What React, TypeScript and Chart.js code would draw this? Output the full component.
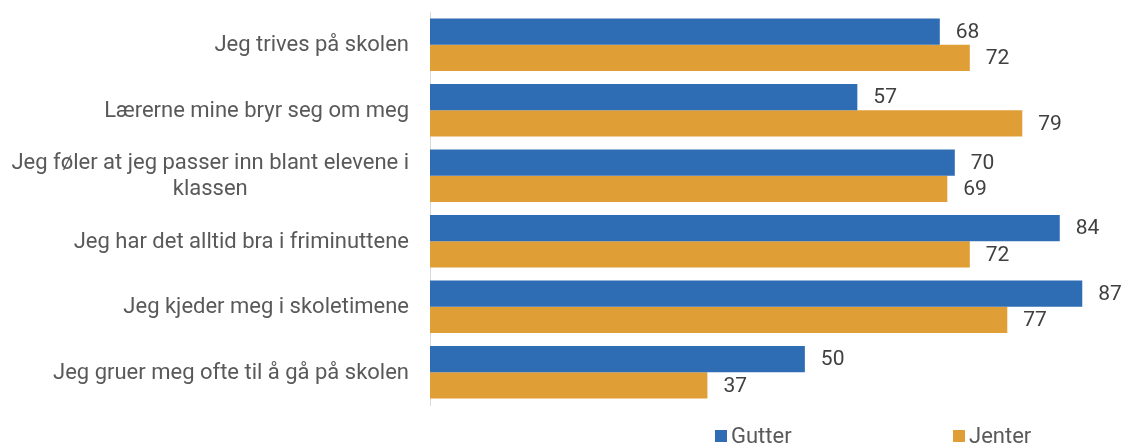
import React, { useEffect, useRef } from "react";
import { Chart, registerables } from "chart.js";

Chart.register(...registerables);

const categories: (string | string[])[] = [
  "Jeg trives på skolen",
  "Lærerne mine bryr seg om meg",
  ["Jeg føler at jeg passer inn blant elevene i", "klassen"],
  "Jeg har det alltid bra i friminuttene",
  "Jeg kjeder meg i skoletimene",
  "Jeg gruer meg ofte til å gå på skolen",
];
const seriesNames = ["Gutter", "Jenter"];
const gutter = [68, 57, 70, 84, 87, 50];
const jenter = [72, 79, 69, 72, 77, 37];
const colors = ["#2E6DB4", "#E09E36"];

const FONT = "Roboto, 'Open Sans', sans-serif";

export default function App() {
  const ref = useRef<HTMLCanvasElement>(null);
  useEffect(() => {
    const labelPlugin = {
      id: "customLabels",
      afterDatasetsDraw(chart: any) {
        const ctx = chart.ctx;
        const area = chart.chartArea;
        const yScale = chart.scales.y;
        ctx.save();
        ctx.font = `22px ${FONT}`;
        ctx.fillStyle = "#595959";
        ctx.textBaseline = "middle";
        const right = area.left - 21;
        categories.forEach((lab, i) => {
          const cy = yScale.getPixelForValue(i);
          const lines = Array.isArray(lab) ? lab : [lab];
          const lh = 26;
          const widths = lines.map((l) => ctx.measureText(l).width);
          const maxW = Math.max(...widths);
          lines.forEach((l, j) => {
            const y = cy + 1 + (j - (lines.length - 1) / 2) * lh;
            if (lines.length > 1) {
              ctx.textAlign = "center";
              ctx.fillText(l, right - maxW / 2, y);
            } else {
              ctx.textAlign = "right";
              ctx.fillText(l, right, y);
            }
          });
        });
        ctx.font = `21px ${FONT}`;
        ctx.fillStyle = "#404040";
        ctx.textAlign = "left";
        chart.data.datasets.forEach((ds: any, di: number) => {
          const meta = chart.getDatasetMeta(di);
          meta.data.forEach((el: any, i: number) => {
            ctx.fillText(String(ds.data[i]), el.x + 16, el.y + 1);
          });
        });
        ctx.restore();
      },
    };

    const chart = new Chart(ref.current!, {
      type: "bar",
      data: {
        labels: categories.map((c) => (Array.isArray(c) ? c.join(" ") : c)),
        datasets: [
          {
            label: seriesNames[0],
            data: gutter,
            backgroundColor: colors[0],
            categoryPercentage: 0.8,
            barPercentage: 1.0,
          },
          {
            label: seriesNames[1],
            data: jenter,
            backgroundColor: colors[1],
            categoryPercentage: 0.8,
            barPercentage: 1.0,
          },
        ],
      },
      options: {
        indexAxis: "y",
        responsive: false,
        animation: false,
        layout: { padding: { left: 430, top: 12, bottom: 38, right: 15 } },
        plugins: {
          legend: { display: false },
          tooltip: { enabled: false },
        },
        scales: {
          x: { display: false, min: 0, max: 90.3 },
          y: {
            grid: { display: false, drawTicks: false },
            border: { display: true, color: "#d9d9d9", width: 1 },
            ticks: { display: false },
            afterFit: (s: any) => {
              s.width = 0;
            },
          },
        },
      },
      plugins: [labelPlugin],
    });
    return () => chart.destroy();
  }, []);

  const legendItem = (name: string, color: string, left: number) => (
    <div
      key={name}
      style={{
        position: "absolute",
        left,
        top: 424,
        display: "flex",
        alignItems: "center",
        fontFamily: FONT,
        fontSize: 22,
        color: "#595959",
        whiteSpace: "nowrap",
        lineHeight: "24px",
      }}
    >
      <span
        style={{
          display: "inline-block",
          width: 12,
          height: 12,
          background: color,
          marginRight: 4,
        }}
      />
      {name}
    </div>
  );

  return (
    <div
      style={{
        position: "fixed",
        left: 0,
        top: 0,
        width: 1122,
        height: 443,
        overflow: "hidden",
        background: "#fff",
      }}
    >
      <canvas ref={ref} width={1122} height={443} />
      {legendItem(seriesNames[0], colors[0], 715)}
      {legendItem(seriesNames[1], colors[1], 953)}
    </div>
  );
}
